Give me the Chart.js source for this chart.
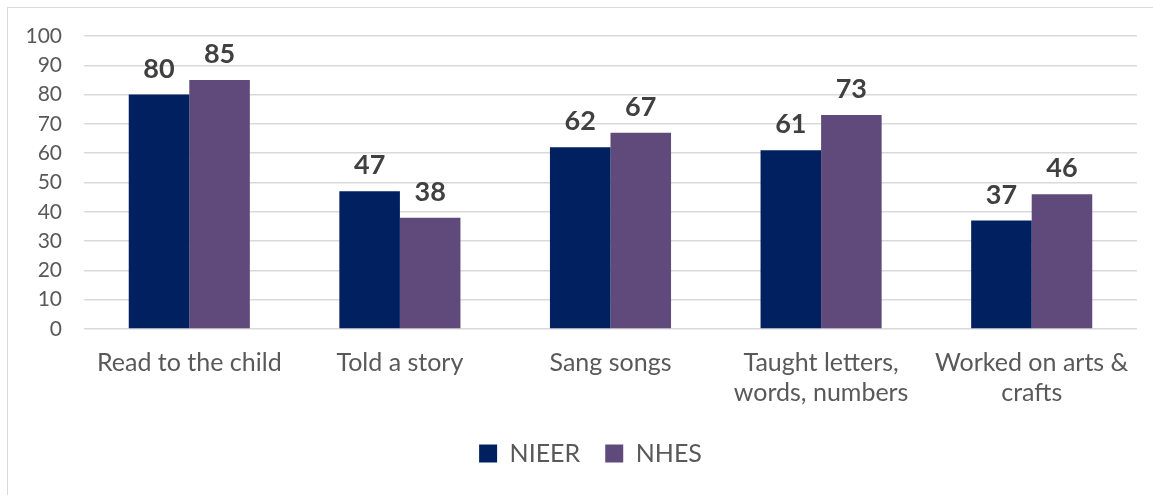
<!DOCTYPE html>
<html>
<head>
<meta charset="utf-8">
<script src="https://cdn.jsdelivr.net/npm/chart.js@4"></script>
<style>
  html, body { margin: 0; padding: 0; background: #fff; overflow: hidden; }
  #frame {
    position: absolute; left: 7px; top: 7px;
    width: 1146px; height: 488px;
    border-left: 1px solid #d9d9d9; border-top: 1px solid #d9d9d9;
  }
  #grafico { display: block; }
</style>
</head>
<body>
<div id="frame"><canvas id="grafico" width="1145" height="487"></canvas></div>
<script>
const categorie = [
    "Read to the child",
    "Told a story",
    "Sang songs",
    ["Taught letters,", "words, numbers"],
    ["Worked on arts &", "crafts"]
];
const valoriNieer = [80, 47, 62, 61, 37];
const valoriNhes = [85, 38, 67, 73, 46];
const tickY = [0, 10, 20, 30, 40, 50, 60, 70, 80, 90, 100];

const font = "Lato, 'Open Sans', sans-serif";

// etichette sopra le barre
const etichetteBarre = {
    id: "etichetteBarre",
    afterLayout(chart) {
        // sposta un po' la legenda a destra
        chart.legend.left += 18;
        chart.legend.right += 18;
    },
    afterDatasetsDraw(chart) {
        const ctx = chart.ctx;
        ctx.save();
        ctx.font = "bold 27px " + font;
        ctx.fillStyle = "#404040";
        ctx.textAlign = "center";
        ctx.textBaseline = "alphabetic";
        chart.data.datasets.forEach((ds, i) => {
            chart.getDatasetMeta(i).data.forEach((el, j) => {
                ctx.fillText(ds.data[j], el.x, el.y - 17);
            });
        });
        ctx.restore();
    }
};

const ctx = document.getElementById("grafico").getContext("2d");
new Chart(ctx, {
    type: "bar",
    data: {
        labels: categorie,
        datasets: [
            { label: "NIEER", data: valoriNieer, backgroundColor: "#002060" },
            { label: "NHES", data: valoriNhes, backgroundColor: "#604a7b" }
        ]
    },
    options: {
        responsive: false,
        animation: false,
        layout: { padding: { top: 28, left: 0, right: 16, bottom: 19 } },
        datasets: { bar: { categoryPercentage: 0.575, barPercentage: 1.0 } },
        scales: {
            x: {
                grid: { display: false },
                border: { display: false },
                ticks: {
                    color: "#595959",
                    font: { family: font, size: 25, lineHeight: 1.2 },
                    padding: 11,
                    maxRotation: 0,
                    autoSkip: false
                },
                afterFit: (scale) => { scale.height = 87; }
            },
            y: {
                min: 0,
                max: 100,
                afterBuildTicks: (scale) => { scale.ticks = tickY.map(v => ({ value: v })); },
                grid: { color: "#d9d9d9", lineWidth: 1.5, drawTicks: false },
                border: { display: false },
                ticks: {
                    color: "#595959",
                    font: { family: font, size: 21 },
                    padding: 22
                },
                afterFit: (scale) => {
                    scale.width = 76;
                    scale.paddingTop = 0;
                    scale.paddingBottom = 0;
                }
            }
        },
        plugins: {
            legend: {
                position: "bottom",
                labels: {
                    color: "#595959",
                    font: { family: font, size: 25 },
                    boxWidth: 18,
                    boxHeight: 18,
                    padding: 25
                }
            },
            tooltip: { enabled: false }
        }
    },
    plugins: [etichetteBarre]
});
</script>
</body>
</html>
